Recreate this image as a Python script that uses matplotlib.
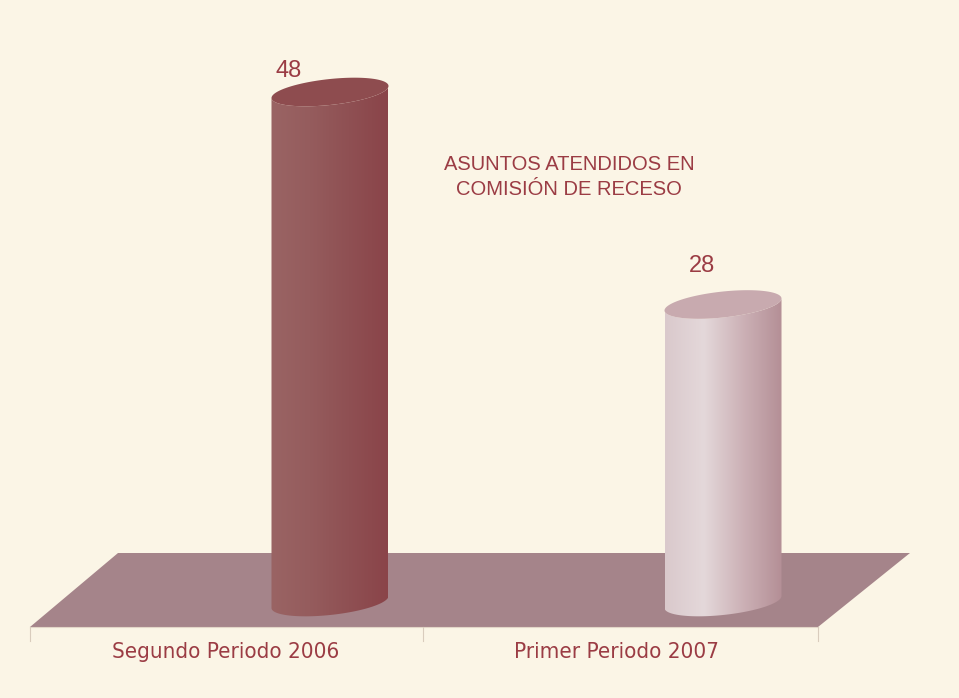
import numpy as np
import matplotlib
matplotlib.use("Agg")
import matplotlib.pyplot as plt
from matplotlib.path import Path
from matplotlib.patches import PathPatch, Polygon
from matplotlib.colors import LinearSegmentedColormap

# datos
categorias = ["Segundo Periodo 2006", "Primer Periodo 2007"]
valores = [48, 28]
titulo = "ASUNTOS ATENDIDOS EN\nCOMISIÓN DE RECESO"

BG = "#fbf5e6"
TXT = "#9b3c44"
FLOOR = "#a5848a"
grad_colors = [
    ["#9a6464", "#955c5d", "#8f5053", "#8a4449"],   # cilindro rojo
    ["#dac9cc", "#e4d8da", "#ccb1b6", "#b48f96"],   # cilindro rosa
]
top_colors = ["#8e4c4f", "#c8aaaf"]

plt.rcParams['font.family'] = ['DejaVu Sans']

fig = plt.figure(figsize=(9.59, 6.98), dpi=100, facecolor=BG)
ax = fig.add_axes([0, 0, 1, 1])
ax.set_facecolor(BG)

# escala: valor 0 en y=602 px, 10.625 px por unidad; categoria 0 en x=330 px, 393 px por unidad
py_unit = 10.625
px_unit = 393.0
ax.set_xlim(-330 / px_unit, (959 - 330) / px_unit)
ax.set_ylim(-(698 - 602) / py_unit, 602 / py_unit)
ax.axis("off")

def px2d(x, y):
    return (x - 330) / px_unit, (602 - y) / py_unit

# piso
floor = [px2d(30, 627), px2d(818, 627), px2d(910, 553), px2d(118, 553)]
ax.add_patch(Polygon(floor, closed=True, facecolor=FLOOR, edgecolor="none", zorder=1))
ax.plot([px2d(30, 627)[0], px2d(818, 627)[0]], [px2d(0, 627)[1]] * 2, color="#e3d6c8", lw=0.8, zorder=1)
for xp in [30, 423, 818]:
    x0, y0 = px2d(xp, 627)
    _, y1 = px2d(xp, 641)
    ax.plot([x0, x0], [y0, y1], color="#d9ccbd", lw=0.8, zorder=1)

half_w = 58.5 / px_unit      # media anchura
half_h = 13.0 / py_unit      # semi eje vertical de la elipse
shear = 6.0 / py_unit        # inclinación de la elipse

def ellipse_pts(cx, cy, t):
    x = cx + half_w * np.cos(t)
    y = cy + half_h * np.sin(t) + shear * np.cos(t)
    return x, y

for i, (v, cols) in enumerate(zip(valores, grad_colors)):
    cx = i
    # cuerpo
    t = np.linspace(np.pi, 2 * np.pi, 80)
    bx, by = ellipse_pts(cx, 0, t)          # arco frontal inferior
    tx, ty = ellipse_pts(cx, v, t[::-1])    # arco frontal superior (vuelta)
    xs = np.concatenate([bx, tx])
    ys = np.concatenate([by, ty])
    verts = np.column_stack([xs, ys])
    path = Path(np.vstack([verts, verts[:1]]),
                [Path.MOVETO] + [Path.LINETO] * (len(verts) - 1) + [Path.CLOSEPOLY])
    body = PathPatch(path, facecolor="none", edgecolor="none", zorder=2)
    ax.add_patch(body)
    cmap = LinearSegmentedColormap.from_list("c%d" % i, cols)
    grad = np.linspace(0, 1, 256).reshape(1, -1)
    im = ax.imshow(grad, cmap=cmap, aspect="auto", zorder=2,
                   extent=[cx - half_w, cx + half_w, -half_h - shear - 0.5, v + half_h + shear + 0.5],
                   interpolation="bilinear")
    im.set_clip_path(body)
    # tapa
    t2 = np.linspace(0, 2 * np.pi, 160)
    ex, ey = ellipse_pts(cx, v, t2)
    ax.add_patch(Polygon(np.column_stack([ex, ey]), closed=True,
                         facecolor=top_colors[i], edgecolor="none", zorder=3))

# etiquetas de valor (posiciones en px)
for v, (xp, yp) in zip(valores, [(289, 71), (702, 266)]):
    x, y = px2d(xp, yp)
    ax.text(x, y, str(v), ha="center", va="center",
            fontsize=17, color=TXT, family=['Liberation Sans', 'DejaVu Sans'])

# titulo
tx, ty = px2d(569, 177)
ax.text(tx, ty, titulo, ha="center", va="center", fontsize=14.5, color=TXT,
        linespacing=1.45, family=['Liberation Sans', 'DejaVu Sans'])

# categorias
for xp, lab in zip([226, 616], categorias):
    x, y = px2d(xp, 652)
    ax.text(x, y, lab, ha="center", va="center", fontsize=16, color=TXT,
            fontstretch="condensed")

fig.savefig("out.png", dpi=100, facecolor=BG)
